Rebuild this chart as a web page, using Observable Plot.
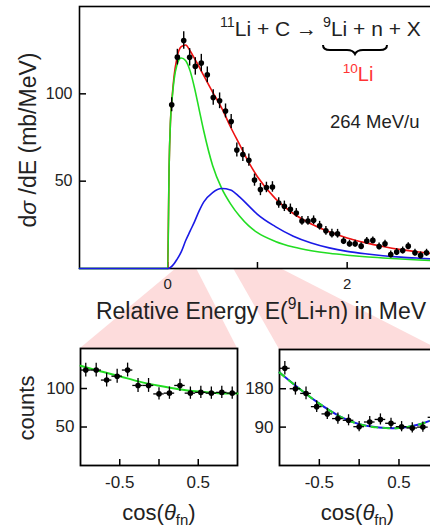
<!DOCTYPE html>
<html><head><meta charset="utf-8">
<script src="https://cdn.jsdelivr.net/npm/d3@7"></script>
<script src="https://cdn.jsdelivr.net/npm/@observablehq/plot@0.6"></script>
<style>
html,body{margin:0;padding:0;background:#fff;overflow:hidden;}
#stage{position:relative;width:430px;height:527px;overflow:hidden;background:#fff;font-family:"Liberation Sans",Arial,sans-serif;}
#stage svg{position:absolute;left:0;top:0;overflow:hidden;max-width:none !important;}
</style></head><body><div id="stage"></div>
<script>
// ---------- main spectrum: measured points (E in MeV, dσ/dE in mb/MeV) ----------
const energyMeV = [0.044,0.107,0.178,0.244,0.307,0.374,0.441,0.507,0.578,0.644,0.707,0.770,0.837,0.904,0.967,1.033,1.100,1.167,1.237,1.300,1.367,1.433,1.496,1.563,1.626,1.693,1.763,1.830,1.893,1.960,2.026,2.089,2.156,2.219,2.286,2.356,2.422,2.486,2.552,2.619,2.681,2.756,2.819,2.885];
const crossSection = [93.7,121,130.5,120.9,115.7,117.6,110.9,97.9,96,90.2,84.1,67.8,65.3,62,50.6,45.2,46.4,46.7,37.5,35.6,33.9,31.8,27.2,27.2,27.6,24.5,21.6,19.9,19.9,15.7,14.2,14.2,12.8,15.7,16.1,12.6,14.2,8.0,9.4,10.3,12.8,9.0,7.5,9.0];
const crossSectionErr = [4,4.5,5,5,5,5,4.5,4.5,4.5,4,4,4,4,3.5,3.5,3.5,3,3,3,3,3,2.5,2.5,2.5,2.5,2.5,2.5,2.5,2.5,2,2,2,2,2,2,2,2,2,2,2,2,2,2,2];
// ---------- main spectrum: fit curves ----------
const curveEnergy = [-0.984,0,0.015,0.03,0.05,0.07,0.1,0.15,0.2,0.25,0.3,0.35,0.4,0.5,0.6,0.7,0.8,0.9,1.0,1.2,1.4,1.6,1.8,2.0,2.2,2.4,2.6,2.8,2.95];
const totalFit = [null,0,58,84,99,110,120,127,128,124.5,120,115.5,110.5,101,92,81,71,61,52.5,40,31.5,25.5,21,17.5,14.8,12.6,10.8,9.4,8.5];
const sWaveFit = [0,0,58,84,98,108,116,120.5,119,113,103,91,79,59,46,37,30,24.5,20.5,15.5,12.3,10.2,8.7,7.6,6.7,6.0,5.4,4.9,4.6];
const pWaveFit = [0,0,0.2,0.6,1.5,2.7,5,9.5,16,21.5,27,33,38,43.5,45.8,45,41,36,31,24,18.5,14.6,11.8,9.8,8.4,7.3,6.5,5.9,5.5];
const mainXTicks = [0,1,2,3];
const mainXTickLabels = [0,2];
const mainYTicks = [50,100];
// ---------- energy windows shown in the insets ----------
const windowLo = [0.097,0.732];
const windowHi = [0.32,1.256];
// ---------- angular distributions ----------
const cosCenters = [-0.933,-0.8,-0.667,-0.533,-0.4,-0.267,-0.133,0,0.133,0.267,0.4,0.533,0.667,0.8,0.933];
const cosBinHalf = 0.0667;
const countsLowE = [124,124,111,116,124,104,104,93,94,104,94,95,94,95,94];
const countsLowEErr = [9,9,9,9,9,9,9,8,8,8,8,8,8,8,8];
const countsHighE = [228,180,169,138,121,110,106,91,102,108,99,91,88,90,113];
const countsHighEErr = [16,15,15,14,13,13,13,12,13,13,12,12,12,12,13];
const fitCos = [-1,-0.75,-0.5,-0.25,0,0.25,0.5,0.75,1];
const fitLowE = [129.5,122.5,116,109,103.5,99,96,94,93.5];
const fitHighE = [218,180,145,116,97,89,88,96,113];
const lowYTicks = [50,100];
const highYTicks = [90,180];
const cosTicks = [-0.5,0,0.5];
const cosTickLabels = [-0.5,0.5];

const GREEN = "#22dd22", BLUE = "#1a1ae6", RED = "#ee1111", INK = "#222";
const stage = document.getElementById("stage");
const FONT = "Liberation Sans, Arial, sans-serif";

// ---------- main chart ----------
const mainPts = energyMeV.map((e,i)=>({e, v: crossSection[i], err: crossSectionErr[i]}));
const curves = curveEnergy.map((e,i)=>({e, red: totalFit[i], green: sWaveFit[i], blue: pWaveFit[i]}));
const M = {w:460, l:79, t:6, b:268};
const mainPlotW = M.w - M.l - 5.7, mainPlotH = M.b - M.t;
const main = Plot.plot({
  width: M.w, height: 527, marginLeft: M.l, marginRight: 5.7, marginTop: M.t, marginBottom: 527 - M.b,
  style: {background: "transparent", fontFamily: FONT, color: INK},
  x: {domain: [-0.984, 3.2]}, y: {domain: [0, 150]},
  marks: [
    Plot.frame({stroke: "#000", strokeWidth: 1.6}),
    Plot.tickX(mainXTicks, {x: d=>d, insetTop: mainPlotH - 6, stroke: "#000", strokeWidth: 1.5}),
    Plot.tickY(mainYTicks, {y: d=>d, insetRight: mainPlotW - 7, stroke: "#000", strokeWidth: 1.5}),
    Plot.axisX(mainXTickLabels, {tickSize: 0, tickPadding: 10, fontSize: 15, label: null, tickFormat: d=>String(d)}),
    Plot.axisY(mainYTicks, {tickSize: 0, tickPadding: 7, fontSize: 16, label: null, tickFormat: d=>String(d)}),
    Plot.line(curves, {x: "e", y: "red", stroke: RED, strokeWidth: 1.6, curve: "monotone-x"}),
    Plot.line(curves, {x: "e", y: "green", stroke: GREEN, strokeWidth: 1.6, curve: "monotone-x"}),
    Plot.line(curves, {x: "e", y: "blue", stroke: BLUE, strokeWidth: 1.6, curve: "monotone-x"}),
    Plot.ruleX(mainPts, {x: "e", y1: d=>d.v-d.err, y2: d=>d.v+d.err, stroke: "#000", strokeWidth: 1.4}),
    Plot.dot(mainPts, {x: "e", y: "v", r: 2.8, fill: "#000", stroke: null})
  ]
});

// ---------- inset factory ----------
function inset(opts) {
  const pts = cosCenters.map((c,i)=>({c, v: opts.counts[i], err: opts.err[i]}));
  const fit = fitCos.map((c,i)=>({c, v: opts.fit[i]}));
  const plotW = opts.w - opts.l - opts.r, plotH = opts.b - opts.t;
  const fitMarks = opts.dashed
    ? [Plot.line(fit, {x: "c", y: "v", stroke: BLUE, strokeWidth: 2, curve: "natural"}),
       Plot.line(fit, {x: "c", y: "v", stroke: GREEN, strokeWidth: 2, curve: "natural", strokeDasharray: "6,6"})]
    : [Plot.line(fit, {x: "c", y: "v", stroke: GREEN, strokeWidth: 2, curve: "natural"})];
  return Plot.plot({
    width: opts.w, height: 527, marginLeft: opts.l, marginRight: opts.r, marginTop: opts.t, marginBottom: 527 - opts.b,
    style: {background: "transparent", fontFamily: FONT, color: INK},
    x: {domain: [-1, 1]}, y: {domain: [0, opts.ymax]},
    marks: [
      Plot.frame({stroke: "#000", strokeWidth: 1.8}),
      Plot.tickX(cosTicks, {x: d=>d, insetTop: plotH - 6, stroke: "#000", strokeWidth: 1.5}),
      Plot.tickY(opts.yticks, {y: d=>d, insetRight: plotW - 7, stroke: "#000", strokeWidth: 1.5}),
      Plot.axisX(cosTickLabels, {tickSize: 0, tickPadding: 10, fontSize: 17, label: null, tickFormat: d=>String(d)}),
      Plot.axisY(opts.yticks, {tickSize: 0, tickPadding: 6, fontSize: 17, label: null, tickFormat: d=>String(d)}),
      ...fitMarks,
      Plot.ruleX(pts, {x: "c", y1: d=>d.v-d.err, y2: d=>d.v+d.err, stroke: "#000", strokeWidth: 1.3}),
      Plot.ruleY(pts, {y: "v", x1: d=>d.c-cosBinHalf, x2: d=>d.c+cosBinHalf, stroke: "#000", strokeWidth: 1.3}),
      Plot.dot(pts, {x: "c", y: "v", r: 2.8, fill: "#000", stroke: null})
    ]
  });
}
const inset1 = inset({w: 430, l: 80, r: 193, t: 348, b: 465, ymax: 152, counts: countsLowE, err: countsLowEErr, fit: fitLowE, yticks: lowYTicks, dashed: false});
const inset2 = inset({w: 460, l: 279, r: 21.7, t: 349, b: 465, ymax: 272, counts: countsHighE, err: countsHighEErr, fit: fitHighE, yticks: highYTicks, dashed: true});

// ---------- pink connectors (background) ----------
const xs = main.scale("x");
const insetXs = [[inset1.scale("x").apply(-1), inset1.scale("x").apply(1), 348],
                 [inset2.scale("x").apply(-1), inset2.scale("x").apply(1), 349]];
const conn = [];
windowLo.forEach((lo,i)=>{
  conn.push({id: i, y: M.b, x1: xs.apply(lo), x2: xs.apply(windowHi[i])});
  conn.push({id: i, y: insetXs[i][2], x1: insetXs[i][0], x2: insetXs[i][1]});
});
const bg = Plot.plot({
  width: 430, height: 527, margin: 0,
  style: {background: "transparent"},
  x: {type: "identity", axis: null}, y: {type: "identity", axis: null},
  marks: [Plot.areaX(conn, {y: "y", x1: "x1", x2: "x2", z: "id", fill: "#fddcdc", curve: "linear"})]
});

stage.appendChild(bg);
stage.appendChild(main);
stage.appendChild(inset1);
stage.appendChild(inset2);

// ---------- text overlay ----------
const ov = d3.select(stage).append("svg").attr("width", 430).attr("height", 527)
  .style("font-family", FONT).attr("fill", INK);
function rich(x, y, size, parts, anchor, transform, fill) {
  const t = ov.append("text").attr("x", x).attr("y", y).attr("font-size", size)
    .attr("text-anchor", anchor || "start");
  if (transform) t.attr("transform", transform);
  if (fill) t.attr("fill", fill);
  let shift = 0;
  for (const p of parts) {
    const s = p.sup ? -0.42*size : p.sub ? 0.22*size : 0;
    const ts = t.append("tspan").text(p.t).attr("dy", s - shift);
    if (p.sup || p.sub) ts.attr("font-size", size*0.68);
    if (p.it) ts.attr("font-style", "italic");
    shift = s;
  }
  return t;
}
// axis titles
rich(0, 0, 23, [{t:"d"},{t:"σ", it:true},{t:" /dE (mb/MeV)"}], "middle", "translate(36,140) rotate(-90)");
rich(261, 319, 23, [{t:"Relative Energy E("},{t:"9", sup:true},{t:"Li+n) in MeV"}], "middle");
rich(0, 0, 22, [{t:"counts"}], "middle", "translate(34,408) rotate(-90)");
rich(159, 520, 22, [{t:"cos("},{t:"θ", it:true},{t:"fn", sub:true},{t:")"}], "middle");
rich(357.5, 520, 22, [{t:"cos("},{t:"θ", it:true},{t:"fn", sub:true},{t:")"}], "middle");
// reaction annotation
rich(220, 36, 21, [{t:"11", sup:true},{t:"Li + C → "},{t:"9", sup:true},{t:"Li + n + X"}], "start");
rich(358, 81, 20, [{t:"10", sup:true},{t:"Li"}], "middle", null, "#ff3333");
rich(330, 128, 18.5, [{t:"264 MeV/u"}], "start");
ov.append("path")
  .attr("d", "M323,45 q0,5 7,5 h17 q6,0 8,4 q2,-4 8,-4 h17 q7,0 7,-5")
  .attr("fill", "none").attr("stroke", "#000").attr("stroke-width", 2);
</script></body></html>
